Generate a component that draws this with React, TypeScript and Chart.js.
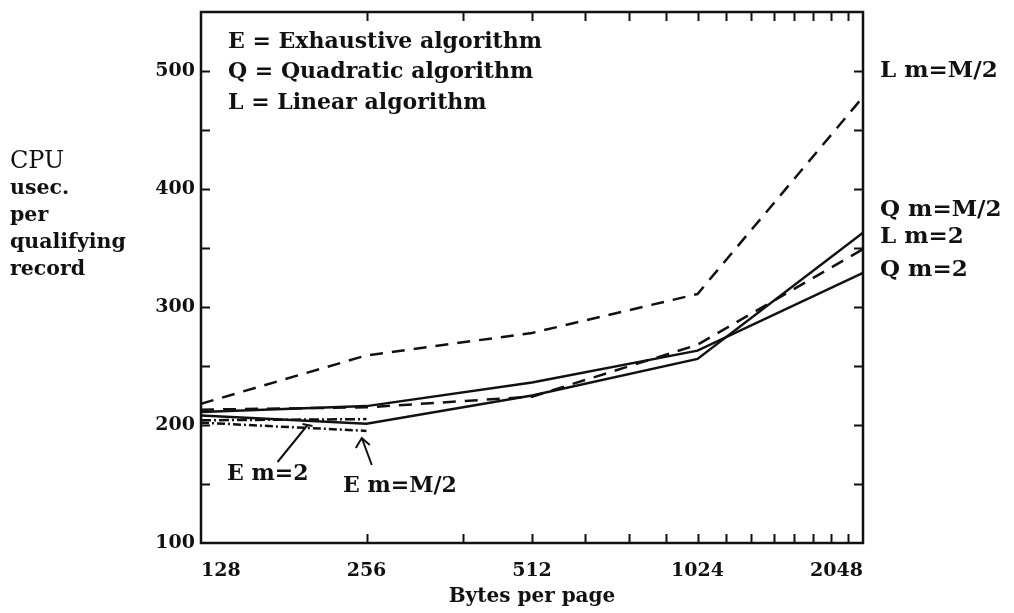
import React, { useEffect, useRef } from "react";
import { Chart, registerables } from "chart.js";

Chart.register(...registerables);

// Bytes per page (log2 axis)
const xValues = [128, 256, 512, 1024, 2048];
const xLabelValues = [128, 256, 512, 1024, 2048];
const xTickValues = [128, 256, 384, 512, 640, 768, 896, 1024, 1152, 1280, 1408, 1536, 1664, 1792, 1920, 2048];
const yTickValues = [100, 150, 200, 250, 300, 350, 400, 450, 500, 550];
const yLabelValues = [100, 200, 300, 400, 500];

// CPU usec. per qualifying record
const linearHalf = [218, 259, 278, 311, 478];
const linearTwo = [213, 215, 224, 268, 349];
const quadTwo = [211, 216, 236, 263, 329];
const quadHalf = [208, 201, 225, 256, 363];
const exhTwo = [204, 205];
const exhHalf = [202, 195];

const legendLines = ["E = Exhaustive algorithm", "Q = Quadratic algorithm", "L = Linear algorithm"];
const yTitleLines = ["CPU", "usec.", "per", "qualifying", "record"];
const endLabels = ["L m=M/2", "Q m=M/2", "L m=2", "Q m=2"];
const endLabelValues = [500, 382, 359, 331];

const SERIF = '"DejaVu Serif", "Liberation Serif", serif';
const INK = "#111";

const pts = (ys: number[]) => ys.map((y, i) => ({ x: xValues[i], y }));

const decor = {
  id: "decor",
  afterDraw(chart: any) {
    const { ctx, chartArea } = chart;
    const { left, right, top, bottom } = chartArea;
    const xs = chart.scales.x;
    const ys = chart.scales.y;
    ctx.save();
    ctx.strokeStyle = INK;
    ctx.fillStyle = INK;
    // frame
    ctx.lineWidth = 2.5;
    ctx.strokeRect(left, top, right - left, bottom - top);
    // inward ticks
    ctx.lineWidth = 2;
    ctx.beginPath();
    xTickValues.slice(1, -1).forEach((v) => {
      const px = Math.round(xs.getPixelForValue(v)) + 0.5;
      ctx.moveTo(px, bottom);
      ctx.lineTo(px, bottom - 9);
      ctx.moveTo(px, top);
      ctx.lineTo(px, top + 9);
    });
    yTickValues.slice(1, -1).forEach((v) => {
      const py = Math.round(ys.getPixelForValue(v)) + 0.5;
      ctx.moveTo(left, py);
      ctx.lineTo(left + 9, py);
      ctx.moveTo(right, py);
      ctx.lineTo(right - 9, py);
    });
    ctx.stroke();

    // legend text
    ctx.textBaseline = "middle";
    ctx.textAlign = "left";
    ctx.font = `bold 22px ${SERIF}`;
    legendLines.forEach((t, i) => ctx.fillText(t, left + 27, top + 30 + i * 30.5));

    // labels at line ends
    ctx.font = `bold 23px ${SERIF}`;
    endLabels.forEach((t, i) => ctx.fillText(t, right + 17, ys.getPixelForValue(endLabelValues[i])));

    // y title
    yTitleLines.forEach((t, i) => {
      ctx.font = i === 0 ? `24px ${SERIF}` : `bold 20.5px ${SERIF}`;
      ctx.fillText(t, 10, 162 + i * 27);
    });

    // E annotations
    ctx.font = `bold 22px ${SERIF}`;
    const a1x = xs.getPixelForValue(200), a1y = ys.getPixelForValue(200);
    ctx.fillText("E m=2", left + 26, a1y + 49);
    ctx.lineWidth = 2;
    ctx.beginPath();
    ctx.moveTo(a1x - 30, a1y + 37);
    ctx.lineTo(a1x, a1y);
    ctx.moveTo(a1x - 5, a1y - 1);
    ctx.lineTo(a1x + 5, a1y + 1);
    ctx.stroke();

    const a2x = xs.getPixelForValue(251), a2y = ys.getPixelForValue(189);
    ctx.fillText("E m=M/2", left + 142, a2y + 48);
    ctx.beginPath();
    ctx.moveTo(a2x + 10, a2y + 27);
    ctx.lineTo(a2x, a2y);
    ctx.moveTo(a2x - 6, a2y + 10);
    ctx.lineTo(a2x, a2y);
    ctx.lineTo(a2x + 8, a2y + 7);
    ctx.stroke();
    ctx.restore();
  },
};

export default function App() {
  const ref = useRef<HTMLCanvasElement | null>(null);
  useEffect(() => {
    if (!ref.current) return;
    const line = (label: string, data: number[], dash: number[]) => ({
      label,
      data: pts(data),
      borderColor: INK,
      borderWidth: 2.5,
      borderDash: dash,
      pointRadius: 0,
      tension: 0,
      fill: false,
    });
    const chart = new Chart(ref.current, {
      type: "line",
      data: {
        datasets: [
          line("L m=M/2", linearHalf, [13, 9]),
          line("L m=2", linearTwo, [13, 9]),
          line("Q m=2", quadTwo, []),
          line("Q m=M/2", quadHalf, []),
          line("E m=2", exhTwo, [10, 3, 2, 3]),
          line("E m=M/2", exhHalf, [8, 3, 2, 3]),
        ],
      },
      options: {
        animation: false,
        responsive: false,
        devicePixelRatio: 1,
        layout: { padding: { left: 0, top: 12, right: 151, bottom: 0 } },
        plugins: { legend: { display: false }, tooltip: { enabled: false } },
        scales: {
          x: {
            type: "logarithmic",
            min: 128,
            max: 2048,
            afterBuildTicks: (s: any) => {
              s.ticks = xTickValues.map((v) => ({ value: v }));
            },
            afterFit: (s: any) => {
              s.height = 70;
              s.paddingLeft = 0;
              s.paddingRight = 0;
            },
            grid: { display: false },
            border: { display: false },
            ticks: {
              autoSkip: false,
              maxRotation: 0,
              align: "inner",
              padding: 9,
              color: INK,
              font: { family: SERIF, size: 19, weight: "bold" },
              callback: (v: any) => (xLabelValues.includes(Number(v)) ? String(v) : ""),
            },
            title: {
              display: true,
              text: "Bytes per page",
              color: INK,
              font: { family: SERIF, size: 20, weight: "bold" },
              padding: { top: 0, bottom: 4 },
            },
          },
          y: {
            type: "linear",
            min: 100,
            max: 550,
            afterBuildTicks: (s: any) => {
              s.ticks = yTickValues.map((v) => ({ value: v }));
            },
            afterFit: (s: any) => {
              s.width = 201;
              s.paddingTop = 0;
              s.paddingBottom = 0;
            },
            grid: { display: false },
            border: { display: false },
            ticks: {
              autoSkip: false,
              padding: -2,
              color: INK,
              font: { family: SERIF, size: 19, weight: "bold" },
              callback: (v: any) => (yLabelValues.includes(Number(v)) ? String(v) : ""),
            },
          },
        },
      },
      plugins: [decor],
    } as any);
    return () => chart.destroy();
  }, []);
  return (
    <div style={{ position: "fixed", left: 0, top: 0, width: 1014, height: 613, background: "#fff" }}>
      <canvas ref={ref} width={1014} height={613} style={{ width: 1014, height: 613, display: "block" }} />
    </div>
  );
}
